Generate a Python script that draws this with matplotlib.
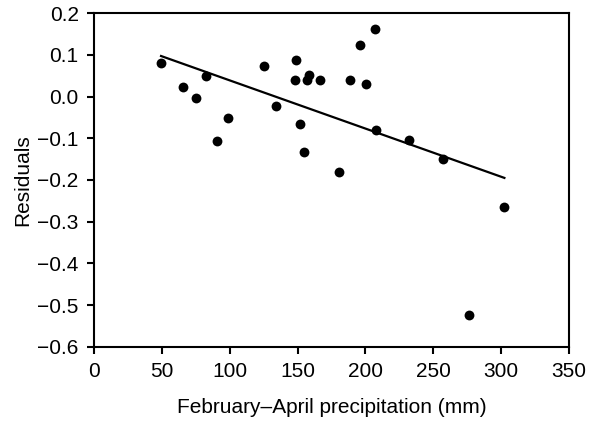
import matplotlib
matplotlib.use("Agg")
import matplotlib.pyplot as plt

plt.rcParams['font.family'] = ['Liberation Sans', 'DejaVu Sans']

precip = [49.4, 65.8, 74.9, 82.4, 90.7, 98.8, 125.3, 134.3, 148.1, 148.6, 152.0,
          154.8, 156.7, 158.7, 166.3, 180.8, 188.9, 195.8, 200.4, 207.3, 207.6,
          231.9, 257.2, 276.1, 301.9]
resid = [0.081, 0.024, -0.003, 0.049, -0.107, -0.051, 0.073, -0.022, 0.041, 0.088,
         -0.065, -0.132, 0.041, 0.052, 0.041, -0.182, 0.041, 0.124, 0.030, 0.162,
         -0.079, -0.104, -0.149, -0.525, -0.266]
line_x = [49.4, 302.4]
line_y = [0.0975, -0.195]
xticks = [0, 50, 100, 150, 200, 250, 300, 350]
yticks = [0.2, 0.1, 0.0, -0.1, -0.2, -0.3, -0.4, -0.5, -0.6]
ytick_labels = ['0.2', '0.1', '0.0', '\u22120.1', '\u22120.2', '\u22120.3', '\u22120.4', '\u22120.5', '\u22120.6']

fig = plt.figure(figsize=(5.89, 4.23), dpi=100)
ax = fig.add_axes([0.1596, 0.1804, 0.8064, 0.7882])
ax.scatter(precip, resid, s=50, color='black', zorder=3, linewidths=0)
ax.plot(line_x, line_y, color='black', lw=1.6)
ax.set_xlim(0, 350)
ax.set_ylim(-0.6, 0.2)
ax.set_xticks(xticks)
ax.set_yticks(yticks)
ax.set_yticklabels(ytick_labels)
for s in ax.spines.values():
    s.set_linewidth(1.5)
ax.tick_params(direction='out', length=5, width=1.5, labelsize=15, pad=6)
ax.set_xlabel('February\u2013April precipitation (mm)', fontsize=15, labelpad=12)
ax.set_ylabel('Residuals', fontsize=15, labelpad=4)
fig.savefig('out.png', dpi=100)
